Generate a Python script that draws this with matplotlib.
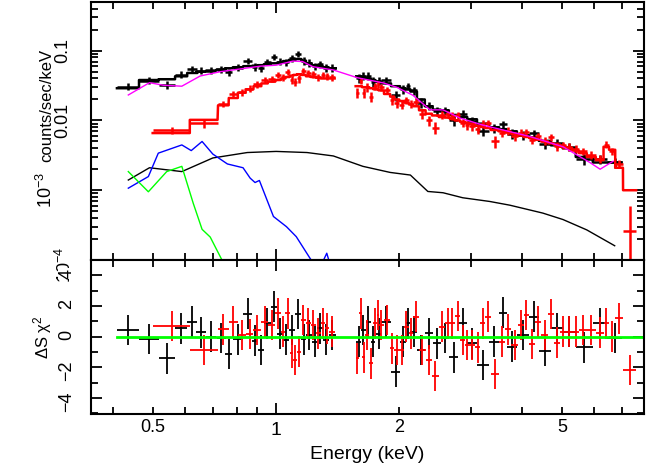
import numpy as np
import matplotlib
matplotlib.use("Agg")
import matplotlib.pyplot as plt
from matplotlib import transforms
from matplotlib.ticker import FixedLocator, FuncFormatter, LogLocator, NullFormatter, MultipleLocator

plt.rcParams['font.family'] = ['Liberation Sans', 'DejaVu Sans']
plt.rcParams['mathtext.fontset'] = 'custom'
plt.rcParams['mathtext.rm'] = 'Liberation Sans'
plt.rcParams['mathtext.it'] = 'Liberation Sans:italic'

# black spectrum: bin centre, half width, flux, flux error, folded model, residual
b_E = [0.435, 0.489, 0.541, 0.586, 0.624, 0.655, 0.694, 0.734, 0.765, 0.806, 0.853, 0.887, 0.917, 0.951, 0.988,
       1.023, 1.057, 1.095, 1.134, 1.168, 1.202, 1.242, 1.281, 1.322, 1.372,
       1.591, 1.634, 1.681, 1.727, 1.78, 1.86, 1.96, 2.042, 2.102, 2.17, 2.26, 2.362, 2.47, 2.585, 2.717,
       2.862, 3.017, 3.21, 3.415, 3.585, 3.77, 4.02, 4.275, 4.545, 4.86, 5.21, 5.675, 6.2, 6.725]
b_dE = [0.027, 0.027, 0.025, 0.02, 0.018, 0.017, 0.019, 0.018, 0.016, 0.022, 0.022, 0.012, 0.016, 0.018, 0.018,
        0.016, 0.017, 0.02, 0.019, 0.015, 0.019, 0.02, 0.019, 0.022, 0.027,
        0.021, 0.022, 0.024, 0.022, 0.03, 0.05, 0.05, 0.032, 0.027, 0.04, 0.05, 0.052, 0.055, 0.06, 0.072,
        0.072, 0.082, 0.11, 0.095, 0.075, 0.11, 0.14, 0.115, 0.155, 0.16, 0.19, 0.27, 0.25, 0.27]
b_F = [0.0305, 0.0373, 0.0325, 0.0455, 0.054, 0.052, 0.052, 0.0535, 0.049, 0.057, 0.071, 0.059, 0.056, 0.070, 0.082,
       0.070, 0.069, 0.078, 0.090, 0.071, 0.067, 0.060, 0.064, 0.057, 0.057,
       0.041, 0.044, 0.044, 0.036, 0.037, 0.038, 0.023, 0.028, 0.031, 0.027, 0.018, 0.0163, 0.0135, 0.0138, 0.0100,
       0.0124, 0.0098, 0.0070, 0.0077, 0.0089, 0.0065, 0.0062, 0.0066, 0.0046, 0.0047, 0.0042, 0.0028, 0.0028, 0.0025]
b_Fe = [0.0035, 0.0045, 0.0045, 0.005, 0.006, 0.006, 0.006, 0.006, 0.006, 0.0065, 0.007, 0.007, 0.007, 0.007, 0.008,
        0.008, 0.008, 0.009, 0.009, 0.009, 0.008, 0.007, 0.007, 0.007, 0.007,
        0.006, 0.006, 0.0055, 0.0055, 0.005, 0.0045, 0.0037, 0.004, 0.0038, 0.0035, 0.0028, 0.0023, 0.002, 0.002, 0.0017,
        0.0015, 0.0014, 0.0011, 0.0011, 0.001, 0.001, 0.0009, 0.0008, 0.0007, 0.0007, 0.0006, 0.0005, 0.0004, 0.0004]
b_M = [0.029, 0.038, 0.039, 0.043, 0.048, 0.050, 0.052, 0.054, 0.056, 0.058, 0.060, 0.061, 0.062, 0.064, 0.066,
       0.068, 0.071, 0.074, 0.076, 0.072, 0.066, 0.062, 0.060, 0.058, 0.056,
       0.043, 0.042, 0.040, 0.038, 0.036, 0.034, 0.031, 0.029, 0.028, 0.026, 0.020, 0.016, 0.0143, 0.0140, 0.0120,
       0.0112, 0.0104, 0.0090, 0.0080, 0.0075, 0.0070, 0.0061, 0.0057, 0.0051, 0.0044, 0.0040, 0.0030, 0.0025, 0.0025]
b_R = [0.44, -0.15, -1.42, 0.54, 0.98, 0.28, 0.0, -0.1, -1.13, -0.17, 1.5, -0.26, -0.87, 0.87, 1.96,
       0.2, -0.2, 0.44, 1.48, -0.17, 0.1, -0.33, 0.54, -0.2, 0.1,
       -0.33, 0.44, 0.98, -0.33, 0.2, 0.98, -2.29, -0.33, 0.87, 0.33, -0.87, 0.22, -0.44, -0.1, -1.35,
       0.87, -0.44, -1.85, -0.33, 1.57, -0.65, 0.1, 1.3, -0.94, 0.54, 0.33, -0.7, 0.87, -0.1]

# red spectrum
r_E = [0.557, 0.667, 0.743, 0.786, 0.824, 0.861, 0.9, 0.937, 0.975, 1.011, 1.04, 1.067, 1.091, 1.113, 1.137,
       1.166, 1.199, 1.232, 1.268, 1.3, 1.333, 1.37,
       1.58, 1.609, 1.637, 1.671, 1.71, 1.745, 1.77, 1.808, 1.868, 1.922, 1.972, 2.028, 2.083, 2.138, 2.2,
       2.278, 2.362, 2.452, 2.545, 2.625, 2.698, 2.778, 2.86, 2.932, 3.012, 3.11, 3.2, 3.295, 3.425, 3.56,
       3.69, 3.83, 3.965, 4.095, 4.225, 4.37, 4.54, 4.705, 4.865, 5.035, 5.21, 5.4, 5.625, 5.9, 6.185,
       6.42, 6.635, 6.9, 7.325]
r_dE = [0.058, 0.052, 0.022, 0.02, 0.018, 0.019, 0.02, 0.017, 0.02, 0.016, 0.013, 0.013, 0.011, 0.011, 0.013,
        0.016, 0.016, 0.017, 0.017, 0.015, 0.017, 0.02,
        0.015, 0.013, 0.015, 0.019, 0.02, 0.015, 0.01, 0.027, 0.032, 0.022, 0.027, 0.027, 0.027, 0.027, 0.035,
        0.042, 0.042, 0.047, 0.045, 0.035, 0.037, 0.042, 0.04, 0.032, 0.047, 0.05, 0.04, 0.055, 0.075, 0.06,
        0.07, 0.07, 0.065, 0.065, 0.065, 0.08, 0.09, 0.075, 0.085, 0.085, 0.09, 0.1, 0.125, 0.15, 0.135,
        0.1, 0.115, 0.15, 0.27]
r_F = [0.0072, 0.0091, 0.0175, 0.0237, 0.0253, 0.0286, 0.0328, 0.0383, 0.0395, 0.0455, 0.0417, 0.050, 0.038, 0.036, 0.040,
       0.051, 0.048, 0.046, 0.042, 0.045, 0.043, 0.042,
       0.025, 0.037, 0.025, 0.030, 0.022, 0.031, 0.033, 0.030, 0.027, 0.0198, 0.0178, 0.0169, 0.0195, 0.0175, 0.0187,
       0.0124, 0.0100, 0.0079, 0.0121, 0.0122, 0.0117, 0.0118, 0.0092, 0.0086, 0.0083, 0.0076, 0.0090, 0.0091, 0.0050, 0.0067,
       0.0071, 0.0060, 0.0067, 0.0069, 0.0053, 0.0060, 0.0051, 0.0057, 0.0043, 0.0044, 0.0042, 0.0039, 0.0036, 0.0032, 0.0028,
       0.0045, 0.0036, 0.0024, 0.00026]
r_Fe = [0.0008, 0.0012, 0.0018, 0.0025, 0.003, 0.0033, 0.0036, 0.004, 0.0042, 0.0045, 0.0047, 0.005, 0.0052, 0.0053, 0.0054,
        0.0053, 0.005, 0.005, 0.0049, 0.0048, 0.0048, 0.0048,
        0.004, 0.004, 0.004, 0.004, 0.0038, 0.0037, 0.0037, 0.0035, 0.0031, 0.0029, 0.0026, 0.0025, 0.0024, 0.0022, 0.0021,
        0.0018, 0.0016, 0.0015, 0.0015, 0.0014, 0.0014, 0.0013, 0.0012, 0.0012, 0.0012, 0.0011, 0.0011, 0.001, 0.00095, 0.0009,
        0.0009, 0.00085, 0.0008, 0.00075, 0.00073, 0.0007, 0.00065, 0.0006, 0.0006, 0.00055, 0.00052, 0.0005, 0.00045, 0.0004, 0.00035,
        0.0005, 0.00045, 0.0003, 0.00034]
r_M = [0.0066, 0.0102, 0.0165, 0.021, 0.025, 0.028, 0.031, 0.034, 0.036, 0.038, 0.040, 0.042, 0.044, 0.045, 0.046,
       0.045, 0.043, 0.042, 0.041, 0.040, 0.040, 0.040,
       0.031, 0.031, 0.030, 0.030, 0.029, 0.028, 0.028, 0.027, 0.024, 0.022, 0.020, 0.019, 0.018, 0.017, 0.016,
       0.014, 0.0125, 0.0118, 0.0112, 0.0110, 0.0105, 0.0100, 0.0095, 0.0092, 0.0089, 0.0084, 0.0081, 0.0078, 0.0073, 0.0070,
       0.0067, 0.0064, 0.0061, 0.0058, 0.0056, 0.0053, 0.0050, 0.0047, 0.0045, 0.0042, 0.0040, 0.0037, 0.0034, 0.0030, 0.0027,
       0.0042, 0.0038, 0.0021, 0.0010]
r_R = [0.7, -0.87, 0.48, 0.98, 0.1, 0.17, 0.44, 0.98, 0.76, 1.52, 0.33, 1.52, -1.05, -1.52, -0.98,
       1.09, 0.87, 0.76, 0.22, 0.87, 0.54, 0.33,
       -1.42, 1.52, -1.35, 0.1, -1.74, 0.87, 1.42, 0.76, 1.09, -0.76, -0.87, -0.87, 0.65, 0.22, 1.3,
       -0.87, -1.52, -2.57, 0.65, 0.87, 0.87, 1.35, -0.22, -0.54, -0.54, -0.7, 0.87, 1.3, -2.44, -0.33,
       0.48, -0.54, 0.76, 1.42, -0.48, 0.98, 0.1, 1.48, -0.4, 0.33, 0.33, 0.33, 0.44, 0.44, 0.26,
       0.87, 0.0, 1.2, -2.18]
res_err = 1.0

# model components
mag_E = [0.435, 0.49, 0.53, 0.588, 0.652, 0.73, 0.914, 1.0, 1.1, 1.16, 1.23, 1.38, 1.58, 1.83, 1.97, 2.16,
         2.38, 2.56, 2.82, 3.2, 3.59, 4.17, 5.03, 5.85, 6.2, 6.67]
mag_F = [0.0232, 0.0348, 0.032, 0.031, 0.0434, 0.050, 0.060, 0.062, 0.071, 0.070, 0.059, 0.053, 0.041, 0.0345,
         0.030, 0.023, 0.0142, 0.0142, 0.0108, 0.0086, 0.0073, 0.0059, 0.0042, 0.0025, 0.0020, 0.0026]
cont_E = [0.435, 0.49, 0.588, 0.70, 0.85, 1.0, 1.19, 1.38, 1.63, 1.9, 2.13, 2.35, 2.56, 2.86, 3.33, 3.73,
          4.49, 5.03, 5.75, 6.73]
cont_F = [0.0014, 0.0021, 0.00185, 0.0029, 0.00347, 0.0036, 0.00347, 0.0031, 0.0022, 0.0018, 0.00165, 0.00096,
          0.00092, 0.00078, 0.00069, 0.00061, 0.00047, 0.00038, 0.00027, 0.00016]
blue_E = [0.435, 0.487, 0.515, 0.588, 0.62, 0.659, 0.70, 0.76, 0.83, 0.864, 0.888, 0.91, 0.985, 1.06, 1.12,
          1.21, 1.27, 1.33, 1.38]
blue_F = [0.00107, 0.00157, 0.0034, 0.00446, 0.0037, 0.0050, 0.0033, 0.00238, 0.0021, 0.00149, 0.00129, 0.00138,
          0.00042, 0.0003, 0.000216, 0.000106, 0.00007, 0.000125, 0.00006]
green_E = [0.435, 0.487, 0.54, 0.588, 0.627, 0.659, 0.69, 0.737, 0.78]
green_F = [0.00185, 0.00095, 0.00185, 0.0022, 0.00065, 0.000275, 0.000213, 0.0001, 0.00005]

# upper y tick labels (value, text, right edge of label in pixels)
y1_ticks = [0.1, 0.01, 1e-3, 8.5e-5]
y1_text = ['0.1', '0.01', '$10^{-3}$', '$10^{-4}$']
y1_xpx = [71, 71, 56, 75]


def step_path(E, dE, M):
    xs, ys = [], []
    prev_hi = None
    for e, d, m in zip(E, dE, M):
        lo, hi = e - d, e + d
        if prev_hi is not None and lo - prev_hi > 0.05:
            xs.append(np.nan)
            ys.append(np.nan)
        xs += [lo, hi]
        ys += [m, m]
        prev_hi = hi
    return xs, ys


W, H = 648, 467
fig = plt.figure(figsize=(W / 100, H / 100), dpi=100)
ax1 = fig.add_axes([0.14, 0.4433, 0.8539, 0.5525])
ax2 = fig.add_axes([0.14, 0.1135, 0.8539, 0.3298])
ax2.set_zorder(2)

# upper panel: data, folded model, components
ax1.errorbar(b_E, b_F, xerr=b_dE, yerr=b_Fe, fmt='none', ecolor='black', elinewidth=1.8)
xs, ys = step_path(b_E, b_dE, b_M)
ax1.plot(xs, ys, color='black', lw=1.8)
ax1.errorbar(r_E, r_F, xerr=r_dE, yerr=r_Fe, fmt='none', ecolor='red', elinewidth=1.8)
xs, ys = step_path(r_E, r_dE, r_M)
ax1.plot(xs, ys, color='red', lw=1.8)
ax1.plot(mag_E, mag_F, color='magenta', lw=1)
ax1.plot(cont_E, cont_F, color='black', lw=1)
ax1.plot(blue_E, blue_F, color='blue', lw=1)
ax1.plot(green_E, green_F, color='#00ff00', lw=1)

# lower panel: residuals
ax2.errorbar(b_E, b_R, xerr=b_dE, yerr=res_err, fmt='none', ecolor='black', elinewidth=1.3)
ax2.errorbar(r_E, r_R, xerr=r_dE, yerr=res_err, fmt='none', ecolor='red', elinewidth=1.3)
ax2.plot([0.408, 8.0], [0, 0], color='#00ff00', lw=2)

for ax in (ax1, ax2):
    ax.set_xscale('log')
    ax.set_xlim(0.352, 7.94)
    ax.xaxis.set_major_locator(FixedLocator([1]))
    ax.xaxis.set_minor_locator(FixedLocator([0.4, 0.5, 0.6, 0.7, 0.8, 0.9, 2, 3, 4, 5, 6, 7]))
    ax.tick_params(which='both', direction='in', top=True, right=True, width=1.3, labelsize=13)
    ax.tick_params(which='major', length=8)
    ax.tick_params(which='minor', length=5)
    ax.tick_params(axis='x', pad=6, labelsize=14)
    for s in ax.spines.values():
        s.set_linewidth(1.5)

ax1.set_yscale('log')
ax1.set_ylim(1e-4, 0.5)
ax1.yaxis.set_major_locator(FixedLocator([1e-4, 1e-3, 1e-2, 0.1]))
ax1.yaxis.set_major_formatter(NullFormatter())
ax1.yaxis.set_minor_locator(LogLocator(base=10, subs=np.arange(2, 10)))
ax1.yaxis.set_minor_formatter(NullFormatter())
ax1.tick_params(axis='x', which='both', labelbottom=False)
ax1.set_ylabel('counts/sec/keV', fontsize=12)
ax1.yaxis.set_label_coords(-0.066, 0.60)

tr = transforms.blended_transform_factory(fig.transFigure, ax1.transData)
for v, t, xp in zip(y1_ticks, y1_text, y1_xpx):
    fig.text(xp / W, v, t, transform=tr, rotation=90, ha='right', va='center',
             fontsize=13, zorder=1)

ax2.set_ylim(-5.05, 5.0)
ax2.yaxis.set_major_locator(FixedLocator([-4, -2, 0, 2, 4]))
ax2.yaxis.set_major_formatter(FuncFormatter(lambda v, p: '%d' % v if v >= 0 else '\u2212%d' % -v))
ax2.yaxis.set_minor_locator(MultipleLocator(1))
ax2.tick_params(axis='y', labelrotation=90, pad=11)
ax2.xaxis.set_major_formatter(FuncFormatter(lambda v, p: '1'))
ax2.xaxis.set_minor_formatter(FuncFormatter(
    lambda v, p: {0.5: '0.5', 2: '2', 5: '5'}.get(round(v, 2), '')))
ax2.set_ylabel('\u0394S \u03c7$^2$', fontsize=12)
ax2.yaxis.set_label_coords(-0.066, 0.5)
ax2.set_xlabel('Energy (keV)', fontsize=14, labelpad=5)

fig.canvas.draw()
for tick in ax2.yaxis.get_major_ticks():
    if abs(tick.get_loc() - 4) < 1e-6:
        tick.label1.set_bbox(dict(facecolor='white', edgecolor='none', pad=0.3))

fig.savefig('out.png', dpi=100)
